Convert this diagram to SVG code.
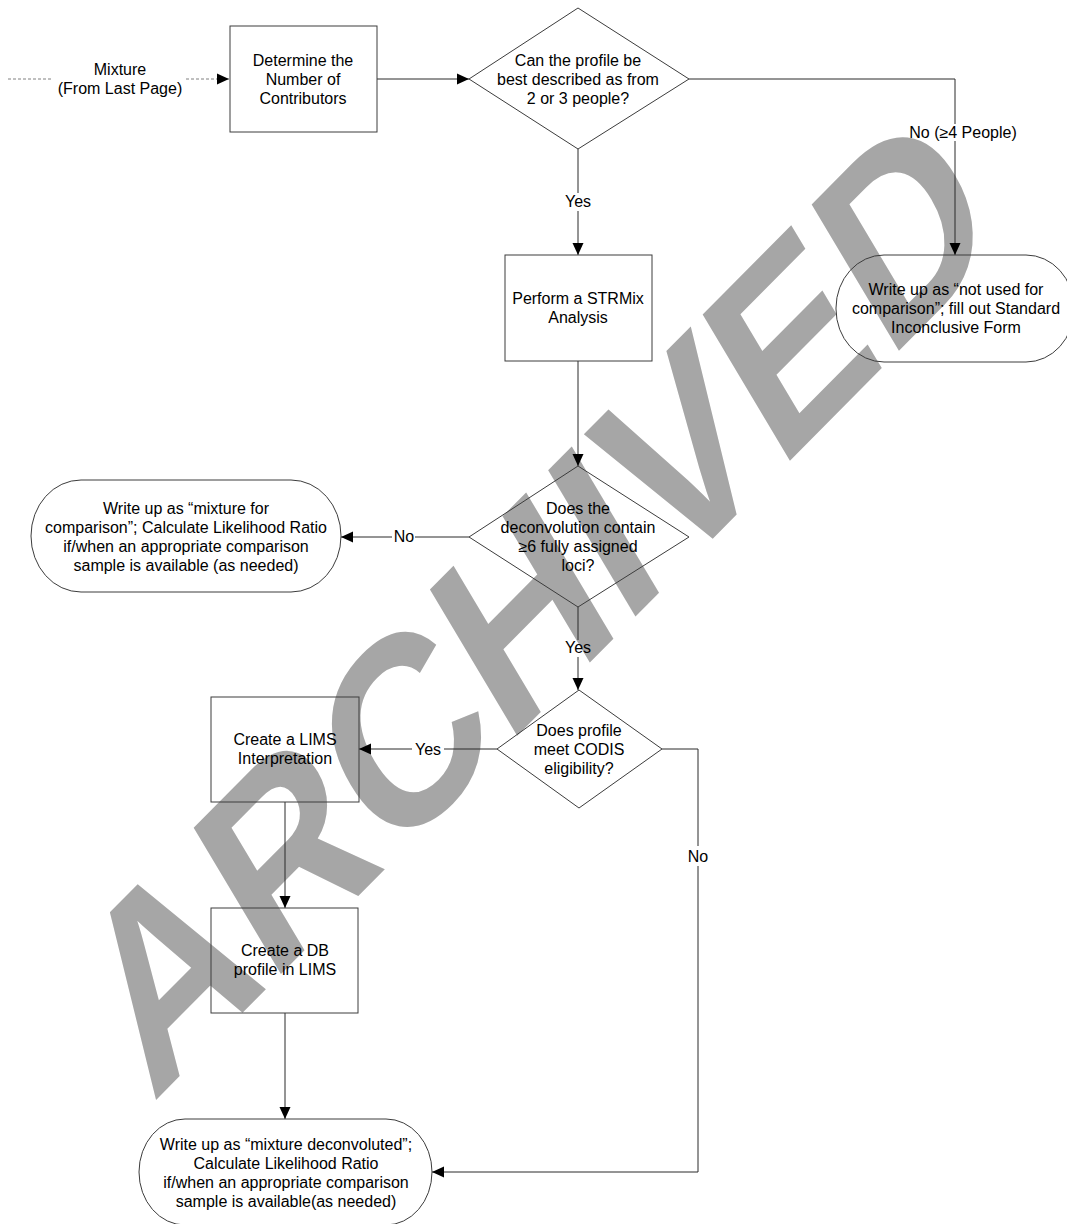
<svg xmlns="http://www.w3.org/2000/svg" width="1067" height="1224" viewBox="0 0 1067 1224">
<style>
  .shape { fill: none; stroke: #3c3c3c; stroke-width: 1; }
  .conn { fill: none; stroke: #2a2a2a; stroke-width: 1; }
  .dash { fill: none; stroke: #808080; stroke-width: 1; stroke-dasharray: 3 2; }
  text { font-family: "Liberation Sans", Arial, sans-serif; font-size: 16px; fill: #000; text-anchor: middle; }
  .wm { font-family: "Liberation Sans", Arial, sans-serif; font-weight: bold; font-size: 207px; fill: #a6a6a6; text-anchor: start; }
</style>
<defs>
  <marker id="arrow" markerUnits="userSpaceOnUse" markerWidth="12" markerHeight="12" refX="12" refY="6" orient="auto" viewBox="0 0 12 12">
    <path d="M0,0.5 L12,6 L0,11.5 z" fill="#000"/>
  </marker>
</defs>
<rect x="0" y="0" width="1067" height="1224" fill="#fff"/>
<g id="watermark">
  <text class="wm" x="0" y="0" transform="translate(152 1104) scale(1 1.3) rotate(-37.8)">ARCHIVED</text>
</g>
<g id="connectors">
  <line class="dash" x1="8" y1="79" x2="52" y2="79"/>
  <line class="dash" x1="186" y1="79" x2="229" y2="79" marker-end="url(#arrow)"/>
  <line class="conn" x1="377" y1="79" x2="469" y2="79" marker-end="url(#arrow)"/>
  <polyline class="conn" points="689,79 955,79 955,124"/>
  <line class="conn" x1="955" y1="141" x2="955" y2="255" marker-end="url(#arrow)"/>
  <line class="conn" x1="578" y1="149" x2="578" y2="193"/>
  <line class="conn" x1="578" y1="211" x2="578" y2="255" marker-end="url(#arrow)"/>
  <line class="conn" x1="578" y1="361" x2="578" y2="466" marker-end="url(#arrow)"/>
  <line class="conn" x1="469" y1="537" x2="415" y2="537"/>
  <line class="conn" x1="392" y1="537" x2="341" y2="537" marker-end="url(#arrow)"/>
  <line class="conn" x1="578" y1="607" x2="578" y2="640"/>
  <line class="conn" x1="578" y1="657" x2="578" y2="690" marker-end="url(#arrow)"/>
  <line class="conn" x1="497" y1="749" x2="444" y2="749"/>
  <line class="conn" x1="412" y1="749" x2="359" y2="749" marker-end="url(#arrow)"/>
  <polyline class="conn" points="662,749 698,749 698,846"/>
  <polyline class="conn" points="698,866 698,1172 432,1172" marker-end="url(#arrow)"/>
  <line class="conn" x1="285" y1="802" x2="285" y2="908" marker-end="url(#arrow)"/>
  <line class="conn" x1="285" y1="1013" x2="285" y2="1119" marker-end="url(#arrow)"/>
</g>
<g id="labels">
  <text x="963" y="138">No (≥4 People)</text>
  <text x="578" y="207">Yes</text>
  <text x="404" y="542">No</text>
  <text x="578" y="653">Yes</text>
  <text x="428" y="755">Yes</text>
  <text x="698" y="862">No</text>
</g>
<g id="start">
  <text x="120" y="75">Mixture</text>
  <text x="120" y="94">(From Last Page)</text>
</g>
<g id="contributors">
  <rect class="shape" x="230" y="26" width="147" height="106"/>
  <text x="303" y="66">Determine the</text>
  <text x="303" y="85">Number of</text>
  <text x="303" y="104">Contributors</text>
</g>
<g id="decision-people">
  <polygon class="shape" points="578,8 689,79 578,149 469,79"/>
  <text x="578" y="66">Can the profile be</text>
  <text x="578" y="85">best described as from</text>
  <text x="578" y="104">2 or 3 people?</text>
</g>
<g id="not-used">
  <rect class="shape" x="836" y="255" width="238" height="107" rx="48" ry="53"/>
  <text x="956" y="295">Write up as “not used for</text>
  <text x="956" y="314">comparison”; fill out Standard</text>
  <text x="956" y="333">Inconclusive Form</text>
</g>
<g id="strmix">
  <rect class="shape" x="505" y="255" width="147" height="106"/>
  <text x="578" y="304">Perform a STRMix</text>
  <text x="578" y="323">Analysis</text>
</g>
<g id="decision-loci">
  <polygon class="shape" points="578,466 689,537 578,607 469,537"/>
  <text x="578" y="514">Does the</text>
  <text x="578" y="533">deconvolution contain</text>
  <text x="578" y="552">≥6 fully assigned</text>
  <text x="578" y="571">loci?</text>
</g>
<g id="mixture-comparison">
  <rect class="shape" x="31" y="480" width="310" height="112" rx="50" ry="56"/>
  <text x="186" y="514">Write up as “mixture for</text>
  <text x="186" y="533">comparison”; Calculate Likelihood Ratio</text>
  <text x="186" y="552">if/when an appropriate comparison</text>
  <text x="186" y="571">sample is available (as needed)</text>
</g>
<g id="decision-codis">
  <polygon class="shape" points="579,690 662,749 579,808 497,749"/>
  <text x="579" y="736">Does profile</text>
  <text x="579" y="755">meet CODIS</text>
  <text x="579" y="774">eligibility?</text>
</g>
<g id="lims-interpretation">
  <rect class="shape" x="211" y="697" width="148" height="105"/>
  <text x="285" y="745">Create a LIMS</text>
  <text x="285" y="764">Interpretation</text>
</g>
<g id="db-profile">
  <rect class="shape" x="211" y="908" width="147" height="105"/>
  <text x="285" y="956">Create a DB</text>
  <text x="285" y="975">profile in LIMS</text>
</g>
<g id="mixture-deconvoluted">
  <rect class="shape" x="139" y="1119" width="293" height="106" rx="46" ry="53"/>
  <text x="286" y="1150">Write up as “mixture deconvoluted”;</text>
  <text x="286" y="1169">Calculate Likelihood Ratio</text>
  <text x="286" y="1188">if/when an appropriate comparison</text>
  <text x="286" y="1207">sample is available(as needed)</text>
</g>
</svg>
